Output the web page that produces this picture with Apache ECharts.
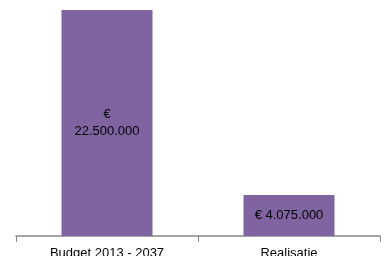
<!DOCTYPE html>
<html>
<head>
<meta charset="utf-8">
<script src="https://cdn.jsdelivr.net/npm/echarts@6/dist/echarts.min.js"></script>
<style>
  html, body { margin: 0; padding: 0; background: #fff; }
  #myChart { width: 388px; height: 256px; }
</style>
</head>
<body>
<div id="myChart"></div>
<script>
// categorieen en waarden
const categories = ["Budget 2013 - 2037", "Realisatie"];
const values = [22500000, 4075000];
const valueLabels = ["€\n22.500.000", "€ 4.075.000"];

const myChart = echarts.init(document.getElementById("myChart"));

const option = {
  animation: false,
  grid: {
    left: 16,
    right: 8,
    top: 10,
    bottom: 20,
    outerBoundsMode: "none" // labels mogen onderaan buiten beeld vallen
  },
  xAxis: {
    type: "category",
    data: categories,
    axisLine: {
      show: true,
      lineStyle: { color: "#868686", width: 1.5 }
    },
    axisTick: {
      show: true,
      length: 6,
      lineStyle: { color: "#868686", width: 1 }
    },
    axisLabel: {
      margin: 11,
      fontFamily: "Liberation Sans",
      fontSize: 13,
      color: "#000"
    }
  },
  yAxis: {
    type: "value",
    min: 0,
    max: 22500000,
    show: false,
    splitLine: { show: false }
  },
  series: [
    {
      type: "bar",
      data: values,
      barWidth: "50%",
      itemStyle: { color: "#8064A2" },
      label: {
        show: true,
        position: "inside",
        fontFamily: "Liberation Sans",
        fontSize: 13,
        lineHeight: 17,
        color: "#000",
        formatter: (p) => valueLabels[p.dataIndex]
      }
    }
  ]
};

myChart.setOption(option);
</script>
</body>
</html>
